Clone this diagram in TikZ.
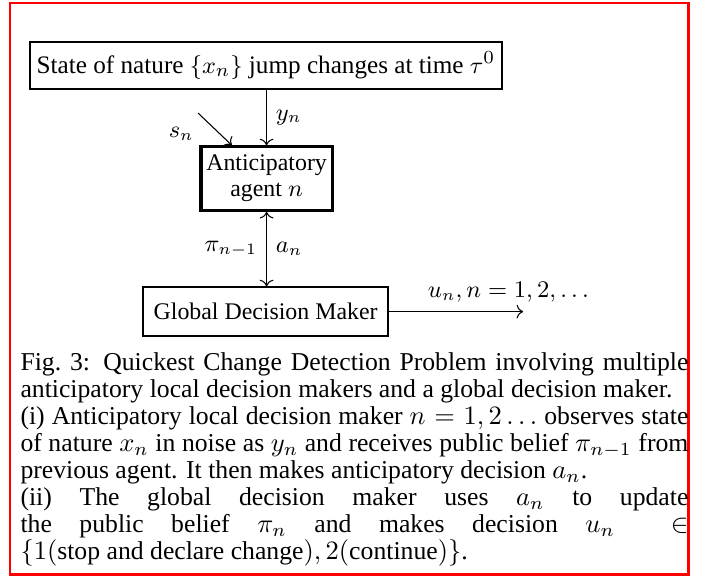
\documentclass[tikz,border=0pt]{standalone}
\usepackage[no-math]{fontspec}
\setmainfont{Liberation Serif}
\usepackage{amsmath}
\usetikzlibrary{arrows.meta, positioning}
\definecolor{frameRed}{RGB}{255,0,0}
\tikzset{
  qcd/box/.style={rectangle, draw=black, fill=white, line width=0.6pt,
    font=\fontsize{9}{10}\selectfont, align=center, inner xsep=2.8pt},
  qcd/agent/.style={rectangle, draw=black, fill=white, line width=1.2pt,
    minimum width=1.74cm, minimum height=0.84cm, inner sep=1pt,
    font=\fontsize{9}{9.8}\selectfont, align=center},
  qcd/arr/.style={->, line width=0.4pt, draw=black},
  qcd/lbl/.style={font=\fontsize{9}{10}\selectfont},
  qcd/frame/.style={draw=frameRed, line width=1.1pt},
  qcd/caption/.style={anchor=north west, inner sep=0pt, text width=252pt,
    align=justify, font=\fontsize{9.7}{10.2}\selectfont,
    execute at begin node={\hyphenpenalty=10000 \tolerance=9000 }}
}
\begin{document}
\begin{tikzpicture}[x=1cm, y=1cm]
  \useasboundingbox (0,0) rectangle (9.375,-7.638);
  % Rahmen
  \draw[qcd/frame] (0.133,-0.040) rectangle (9.126,-7.614);

  % Knoten: Natur, Agent, globaler Entscheider
  \node[qcd/box, anchor=west, minimum height=0.62cm, font=\fontsize{9.5}{10}\selectfont,
        inner xsep=2.6pt] at (0.385,-0.869) (nature)
        {State of nature $\{x_n\}$ jump changes at time $\tau^0$};
  \node[qcd/agent] at (3.535,-2.368) (agent) {Anticipatory\\agent $n$};
  \node[qcd/box, minimum width=3.25cm, minimum height=0.65cm] at (3.522,-4.132) (gdm)
        {Global Decision Maker};
  \coordinate (sn) at (2.626,-1.499);
  \coordinate[right=1.78cm of gdm.east] (un);

  % Verbindungen
  \draw[qcd/arr] (agent.north |- nature.south) -- node[qcd/lbl, right]{$y_n$} (agent.north);
  \draw[qcd/arr] (sn) -- node[qcd/lbl, below left, pos=0.15]{$s_n$} ([xshift=-0.46cm]agent.north);
  \draw[qcd/arr, <->] (agent.south) -- node[qcd/lbl, left]{$\pi_{n-1}$}
        node[qcd/lbl, right]{$a_n$} (agent.south |- gdm.north);
  \draw[qcd/arr] (gdm.east) -- node[qcd/lbl, above, pos=0.89]{$u_n, n = 1, 2, \ldots$} (un);

  % Bildunterschrift
  \node[qcd/caption] at (0.265,-4.669) (cap)
        {Fig.\ 3: Quickest Change Detection Problem involving multiple anticipatory
        local decision makers and a global decision maker.\par
        (i) Anticipatory local decision maker $n = 1,2\ldots$ observes state of nature
        $x_n$ in noise as $y_n$ and receives public belief $\pi_{n-1}$ from previous
        agent. It then makes anticipatory decision $a_n$.\par
        (ii) The global decision maker uses $a_n$ to update the public belief $\pi_n$
        and makes decision $u_n \in \{1(\text{stop and declare change}),
        2(\text{continue})\}$.};
\end{tikzpicture}
\end{document}
